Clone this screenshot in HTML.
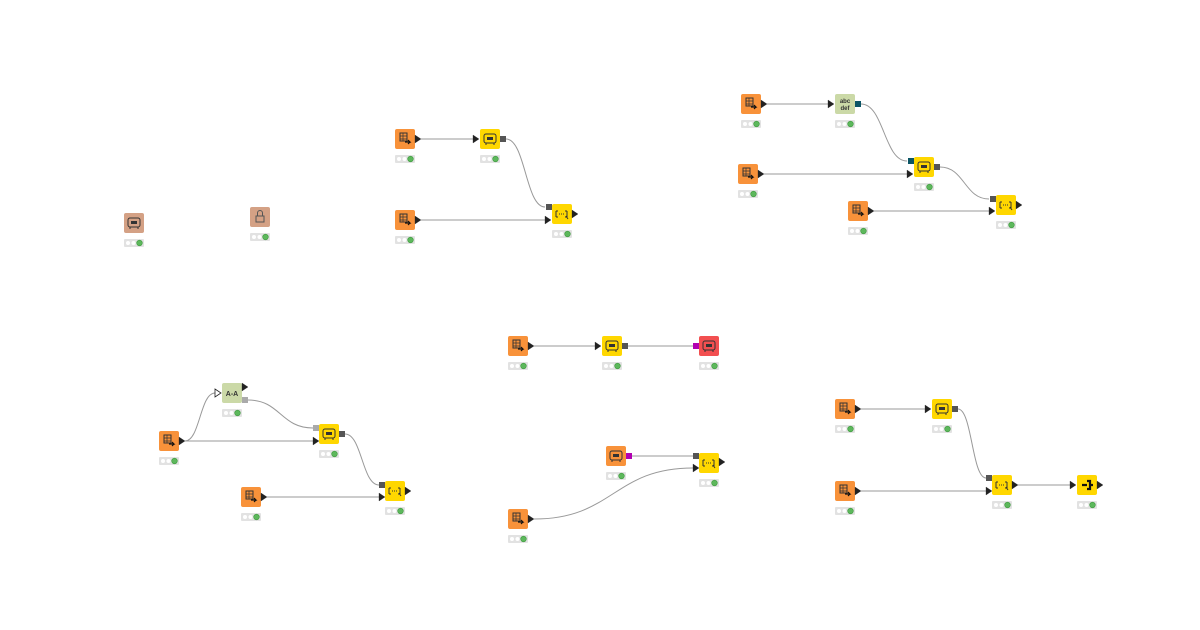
<!DOCTYPE html>
<html><head><meta charset="utf-8"><style>
html,body{margin:0;padding:0;background:#fff;width:1200px;height:630px;overflow:hidden}
svg{display:block}
text{font-family:"Liberation Sans",sans-serif}
</style></head><body>
<svg id="s" width="1200" height="630" xmlns="http://www.w3.org/2000/svg"></svg>
<script>
const s=document.getElementById('s');let h='';
const C={o:'#f8923a',y:'#ffd700',g:'#cbd9a7',b:'#d4a185',r:'#f24f50'};
function node(x,y,c,ic){
 h+=`<rect x="${x}" y="${y}" width="20" height="20" rx="2" fill="${C[c]}"/>`;
 h+=`<rect x="${x}" y="${y+26}" width="20" height="8" rx="1" fill="#e2e2e2"/>`;
 h+=`<circle cx="${x+4}" cy="${y+30}" r="2" fill="#fff"/><circle cx="${x+9.5}" cy="${y+30}" r="2" fill="#fff"/><circle cx="${x+15.5}" cy="${y+30}" r="2.8" fill="#5db85c" stroke="#3e9a3e" stroke-width=".6"/>`;
 const cx=x+10,cy=y+10;
 if(ic==='tab'){h+=`<rect x="${cx-5}" y="${cy-6}" width="7" height="8" fill="none" stroke="#333" stroke-width="1"/><path d="M${cx-5} ${cy-3}h7M${cx-5} ${cy}h7M${cx-2} ${cy-6}v8" stroke="#333" stroke-width=".7"/><path d="M${cx} ${cy+3}h5l-2-2M${cx+5} ${cy+3}l-2 2" stroke="#111" fill="none" stroke-width="1.2"/>`;}
 else if(ic==='db'){h+=`<rect x="${cx-6}" y="${cy-5}" width="12" height="9" rx="2" fill="none" stroke="#333" stroke-width="1"/><rect x="${cx-3}" y="${cy-2}" width="6" height="3" fill="#333"/><path d="M${cx-4} ${cy+4}v2M${cx+4} ${cy+4}v2" stroke="#333"/>`;}
 else if(ic==='mod'){h+=`<path d="M${cx-6} ${cy-3}v6M${cx+5} ${cy-3}v6M${cx-6} ${cy-3}h2M${cx-6} ${cy+3}h2M${cx+5} ${cy-3}h-2M${cx+5} ${cy+3}h-2" stroke="#333" fill="none"/><path d="M${cx-3} ${cy}h5" stroke="#333" stroke-dasharray="1 1"/><path d="M${cx+4} ${cy+2}l2 3" stroke="#333"/>`;}
 else if(ic==='abc'){h+=`<text x="${cx}" y="${cy-1}" font-size="6" font-weight="bold" text-anchor="middle" fill="#333">abc</text><text x="${cx}" y="${cy+6}" font-size="6" font-weight="bold" text-anchor="middle" fill="#333">def</text>`;}
 else if(ic==='aa'){h+=`<text x="${cx}" y="${cy+3}" font-size="7" font-weight="bold" text-anchor="middle" fill="#333">A-A</text>`;}
 else if(ic==='lock'){h+=`<rect x="${cx-4}" y="${cy-1}" width="8" height="6" fill="none" stroke="#555"/><path d="M${cx-2.5} ${cy-1}v-3a2.5 2.5 0 0 1 5 0v3" fill="none" stroke="#555"/>`;}
 else if(ic==='loop'){h+=`<path d="M${cx-5} ${cy}h5M${cx} ${cy-4}h3v8h-3M${cx+3} ${cy}h3" stroke="#111" stroke-width="2.2" fill="none"/>`;}
}
function tri(x,y,hollow){h+=`<path d="M${x} ${y-4}L${x+6} ${y}L${x} ${y+4}Z" fill="${hollow?'#fff':'#222'}" stroke="#222" stroke-width="${hollow?0.8:0.3}"/>`;}
function sq(x,y,c){h+=`<rect x="${x}" y="${y-3}" width="6" height="6" fill="${c}"/>`;}
function line(x1,y1,x2,y2){const m=(x2-x1)/2;h+=`<path d="M${x1} ${y1}C${x1+m} ${y1} ${x2-m} ${y2} ${x2} ${y2}" stroke="#999" stroke-width="1" fill="none"/>`;}
// connector: from output node edge (x+26) to input (x-7)
const G='#555';
// ---- Group A
node(124,213,'b','db');node(250,207,'b','lock');
// ---- Group B
line(421,139,473,139);line(506,139,545,207);line(421,220,545,220);
node(395,129,'o','tab');tri(415,139);
node(480,129,'y','db');tri(473,139);sq(500,139,G);
node(552,204,'y','mod');sq(546,207,G);tri(545,220);tri(572,214);
node(395,210,'o','tab');tri(415,220);
// ---- Group C
line(767,104,828,104);line(861,104,907,161);line(764,174,907,174);line(940,167,989,199);line(874,211,989,211);
node(741,94,'o','tab');tri(761,104);
node(835,94,'g','abc');tri(828,104);sq(855,104,'#0b5565');
node(738,164,'o','tab');tri(758,174);
node(914,157,'y','db');sq(908,161,'#0b5565');tri(907,174);sq(934,167,G);
node(848,201,'o','tab');tri(868,211);
node(996,195,'y','mod');sq(990,199,G);tri(989,211);tri(1016,205);
// ---- Group D
line(185,441,215,393);line(248,400,313,428);line(185,441,313,441);line(345,434,379,485);line(267,497,379,497);
node(159,431,'o','tab');tri(179,441);
node(222,383,'g','aa');tri(215,393,true);tri(242,387);sq(242,400,'#aaa');
node(319,424,'y','db');sq(313,428,'#aaa');tri(313,441);sq(339,434,G);
node(241,487,'o','tab');tri(261,497);
node(385,481,'y','mod');sq(379,485,G);tri(379,497);tri(405,491);
// ---- Group E
line(534,346,595,346);line(628,346,693,346);line(632,456,693,456);line(534,519,693,468);
node(508,336,'o','tab');tri(528,346);
node(602,336,'y','db');tri(595,346);sq(622,346,G);
node(699,336,'r','db');sq(693,346,'#b100b1');
node(606,446,'o','db');sq(626,456,'#b100b1');
node(699,453,'y','mod');sq(693,456,G);tri(693,468);tri(719,462);
node(508,509,'o','tab');tri(528,519);
// ---- Group F
line(861,409,925,409);line(958,409,986,478);line(861,491,986,491);line(1018,485,1070,485);
node(835,399,'o','tab');tri(855,409);
node(932,399,'y','db');tri(925,409);sq(952,409,G);
node(835,481,'o','tab');tri(855,491);
node(992,475,'y','mod');sq(986,478,G);tri(986,491);tri(1012,485);
node(1077,475,'y','loop');tri(1070,485);tri(1097,485);
s.innerHTML=h;
</script>
</body></html>
